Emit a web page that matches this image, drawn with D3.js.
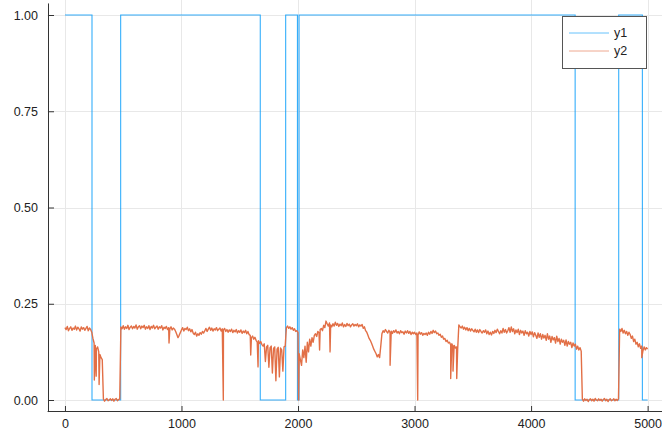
<!DOCTYPE html>
<html>
<head>
<meta charset="utf-8">
<script src="https://cdn.jsdelivr.net/npm/d3@7"></script>
<style>
  html, body { margin: 0; padding: 0; background: #fff; }
  svg { display: block; }
  text { font-family: "Liberation Sans", Arial, sans-serif; }
</style>
</head>
<body>
<svg id="chart" width="662" height="432"></svg>
<script>
// Tick values
const xTicks = [0, 1000, 2000, 3000, 4000, 5000];
const yTicks = [0, 0.25, 0.5, 0.75, 1.0];

// y1: on/off state, value holds from each change point to the next
const y1ChangeX = [0, 232, 478, 1676, 1894, 1995, 2009, 4378, 4752, 4955, 5000];
const y1ChangeV = [1, 0, 1, 0, 1, 0, 1, 0, 1, 0, 0];

// y2: sampled every 10 steps from 0 to 5000 (one row per 100 steps)
const y2Step = 10;
const y2Values = [
  0.188, 0.183, 0.191, 0.180, 0.186, 0.190, 0.181, 0.187, 0.184, 0.192,
  0.182, 0.189, 0.185, 0.179, 0.190, 0.184, 0.188, 0.181, 0.186, 0.191,
  0.180, 0.187, 0.183, 0.176, 0.160, 0.148, 0.142, 0.132, 0.138, 0.125,
  0.118, 0.110, 0.105, 0.002, -0.003, 0.001, 0.004, -0.002, 0.000, 0.003,
  -0.001, 0.003, -0.003, 0.002, 0.004, -0.002, 0.001, 0.003, 0.190, 0.185,
  0.193, 0.184, 0.190, 0.186, 0.194, 0.183, 0.189, 0.192, 0.185, 0.191,
  0.187, 0.195, 0.184, 0.190, 0.193, 0.185, 0.192, 0.188, 0.194, 0.184,
  0.190, 0.186, 0.193, 0.183, 0.191, 0.187, 0.194, 0.185, 0.189, 0.192,
  0.184, 0.190, 0.187, 0.193, 0.182, 0.189, 0.186, 0.191, 0.183, 0.188,
  0.185, 0.190, 0.182, 0.187, 0.184, 0.178, 0.170, 0.162, 0.168, 0.175,
  0.182, 0.188, 0.179, 0.186, 0.183, 0.189, 0.180, 0.185, 0.177, 0.183,
  0.174, 0.170, 0.176, 0.166, 0.172, 0.168, 0.175, 0.171, 0.178, 0.174,
  0.180, 0.186, 0.178, 0.184, 0.189, 0.181, 0.187, 0.179, 0.185, 0.182,
  0.188, 0.180, 0.184, 0.187, 0.179, 0.185, 0.182, 0.186, 0.178, 0.183,
  0.176, 0.182, 0.178, 0.184, 0.175, 0.181, 0.177, 0.183, 0.174, 0.180,
  0.176, 0.182, 0.173, 0.179, 0.175, 0.181, 0.172, 0.178, 0.170, 0.168,
  0.162, 0.166, 0.158, 0.163, 0.155, 0.150, 0.154, 0.147, 0.152, 0.144,
  0.140, 0.146, 0.100, 0.138, 0.142, 0.085, 0.136, 0.140, 0.070, 0.134,
  0.138, 0.050, 0.132, 0.137, 0.060, 0.135, 0.130, 0.075, 0.138, 0.140,
  0.188, 0.192, 0.186, 0.190, 0.184, 0.188, 0.181, 0.185, 0.178, 0.180,
  0.175, 0.120, 0.105, 0.090, 0.130, 0.110, 0.140, 0.098, 0.150, 0.125,
  0.158, 0.140, 0.162, 0.150, 0.168, 0.172, 0.165, 0.178, 0.175, 0.183,
  0.186, 0.180, 0.194, 0.188, 0.205, 0.198, 0.192, 0.200, 0.195, 0.190,
  0.198, 0.192, 0.202, 0.194, 0.199, 0.191, 0.197, 0.193, 0.200, 0.190,
  0.196, 0.191, 0.199, 0.193, 0.197, 0.190, 0.195, 0.198, 0.192, 0.196,
  0.193, 0.198, 0.190, 0.195, 0.192, 0.196, 0.186, 0.190, 0.180, 0.176,
  0.168, 0.160, 0.155, 0.148, 0.140, 0.132, 0.126, 0.120, 0.112, 0.118,
  0.110, 0.140, 0.172, 0.180, 0.176, 0.183, 0.178, 0.174, 0.181, 0.175,
  0.179, 0.173, 0.180, 0.176, 0.182, 0.174, 0.178, 0.172, 0.180, 0.175,
  0.177, 0.171, 0.179, 0.174, 0.180, 0.173, 0.178, 0.170, 0.176, 0.172,
  0.176, 0.170, 0.174, 0.169, 0.177, 0.171, 0.175, 0.168, 0.173, 0.170,
  0.174, 0.168, 0.176, 0.171, 0.178, 0.173, 0.181, 0.175, 0.179, 0.172,
  0.174, 0.168, 0.171, 0.163, 0.166, 0.158, 0.160, 0.152, 0.155, 0.148,
  0.150, 0.143, 0.146, 0.139, 0.142, 0.135, 0.138, 0.132, 0.195, 0.190,
  0.187, 0.192, 0.184, 0.189, 0.182, 0.188, 0.180, 0.186, 0.179, 0.185,
  0.181, 0.177, 0.184, 0.176, 0.182, 0.175, 0.183, 0.178, 0.174, 0.180,
  0.176, 0.182, 0.172, 0.179, 0.170, 0.176, 0.169, 0.178, 0.173, 0.181,
  0.175, 0.184, 0.178, 0.172, 0.180, 0.174, 0.186, 0.176, 0.183, 0.174,
  0.180, 0.188, 0.176, 0.190, 0.178, 0.185, 0.172, 0.182, 0.175, 0.184,
  0.170, 0.181, 0.174, 0.179, 0.168, 0.180, 0.172, 0.176, 0.166, 0.178,
  0.170, 0.177, 0.164, 0.175, 0.168, 0.160, 0.174, 0.163, 0.172, 0.158,
  0.170, 0.161, 0.168, 0.155, 0.172, 0.158, 0.166, 0.150, 0.165, 0.156,
  0.162, 0.148, 0.166, 0.152, 0.160, 0.145, 0.158, 0.150, 0.155, 0.142,
  0.156, 0.140, 0.152, 0.145, 0.150, 0.136, 0.148, 0.140, 0.145, 0.132,
  0.140, 0.130, 0.136, 0.127, 0.002, -0.003, 0.003, -0.001, 0.002, -0.004,
  0.001, 0.003, -0.002, 0.002, -0.003, 0.004, 0.000, -0.002, 0.003, -0.001,
  0.002, -0.003, 0.001, 0.004, -0.002, 0.002, -0.004, 0.001, 0.003, -0.002,
  0.000, 0.003, -0.002, 0.002, -0.001, 0.003, 0.184, 0.178, 0.186, 0.174,
  0.181, 0.172, 0.178, 0.168, 0.176, 0.170, 0.160, 0.166, 0.152, 0.158,
  0.145, 0.150, 0.138, 0.146, 0.134, 0.140, 0.128, 0.138, 0.130, 0.136,
  0.132
];

// y2: isolated single-sample drops
const y2SpikeX = [252, 268, 293, 893, 1359, 1594, 1657, 2005, 2185, 2275, 2790, 3027, 3310, 3330, 3362, 4950];
const y2SpikeY = [0.052, 0.062, 0.040, 0.148, 0.000, 0.117, 0.086, 0.000, 0.130, 0.125, 0.090, 0.000, 0.056, 0.075, 0.056, 0.110];

const seriesNames = ["y1", "y2"];
const seriesColors = ["#009AFA", "#E26F46"];

const svg = d3.select("#chart");
const W = 662, H = 432;

// Plot area
const plotLeft = 47.6, plotRight = 665.1, plotTop = 3.45, plotBottom = 411.55;
const x = d3.scaleLinear().domain([-149, 5150]).range([plotLeft, plotRight]);
const y = d3.scaleLinear().domain([-0.03, 1.03]).range([plotBottom, plotTop]);

svg.append("rect").attr("width", W).attr("height", H).attr("fill", "#fff");

svg.append("defs").append("clipPath").attr("id", "plotclip")
  .append("rect").attr("x", plotLeft).attr("y", plotTop)
  .attr("width", plotRight - plotLeft).attr("height", plotBottom - plotTop);

// Grid
const grid = svg.append("g").attr("stroke", "#e8e8e8").attr("stroke-width", 1);
grid.selectAll("line.gx").data(xTicks).join("line")
  .attr("x1", d => Math.round(x(d)) + 0.5).attr("x2", d => Math.round(x(d)) + 0.5)
  .attr("y1", 0).attr("y2", plotBottom);
grid.selectAll("line.gy").data(yTicks).join("line")
  .attr("y1", d => Math.round(y(d)) + 0.5).attr("y2", d => Math.round(y(d)) + 0.5)
  .attr("x1", plotLeft).attr("x2", W);

// Series
const plot = svg.append("g").attr("clip-path", "url(#plotclip)");

const y1Points = y1ChangeX.map((d, i) => [d, y1ChangeV[i]]);
plot.append("path")
  .attr("d", d3.line().x(d => x(d[0])).y(d => y(d[1])).curve(d3.curveStepAfter)(y1Points))
  .attr("fill", "none").attr("stroke", seriesColors[0]).attr("stroke-width", 1.1)
  .attr("stroke-opacity", 0.8);

const y2Points = y2Values.map((v, i) => [i * y2Step, v])
  .concat(y2SpikeX.map((d, i) => [d, y2SpikeY[i]]))
  .sort((a, b) => a[0] - b[0]);
plot.append("path")
  .attr("d", d3.line().x(d => x(d[0])).y(d => y(d[1]))(y2Points))
  .attr("fill", "none").attr("stroke", seriesColors[1]).attr("stroke-width", 1.4)
  .attr("stroke-linejoin", "round");

// Axes
const yAxis = d3.axisLeft(y).tickValues(yTicks).tickFormat(d3.format(".2f"))
  .tickSizeInner(-6).tickSizeOuter(0).tickPadding(10);
const xAxis = d3.axisBottom(x).tickValues(xTicks).tickFormat(d3.format("d"))
  .tickSizeInner(-5).tickSizeOuter(0).tickPadding(8.5);

const gy = svg.append("g").attr("transform", "translate(48,0)").call(yAxis);
const gx = svg.append("g").attr("transform", "translate(0,411)").call(xAxis);

[gx, gy].forEach(g => {
  g.select(".domain").attr("stroke", "#333");
  g.selectAll(".tick line").attr("stroke", "#333");
  g.selectAll(".tick text").attr("fill", "#222").attr("font-size", "12.5px")
    .attr("font-family", "Liberation Sans, Arial, sans-serif");
});
gy.select(".domain").attr("d", `M0.5,${plotTop}V${plotBottom + 0.5}`);
gx.select(".domain").attr("d", `M${plotLeft},0.5H${W}`);

// Legend
const legend = svg.append("g");
legend.append("rect").attr("x", 562.5).attr("y", 16.5).attr("width", 84).attr("height", 52)
  .attr("fill", "#fff").attr("stroke", "#555").attr("stroke-width", 1);
seriesNames.forEach((name, i) => {
  const ly = 33 + i * 18;
  legend.append("line").attr("x1", 569).attr("x2", 609).attr("y1", ly).attr("y2", ly)
    .attr("stroke", seriesColors[i]).attr("stroke-width", 1).attr("stroke-opacity", 0.6);
  legend.append("text").attr("x", 614).attr("y", ly + 4).attr("font-size", "12.5px")
    .attr("fill", "#222").text(name);
});
</script>
</body>
</html>
